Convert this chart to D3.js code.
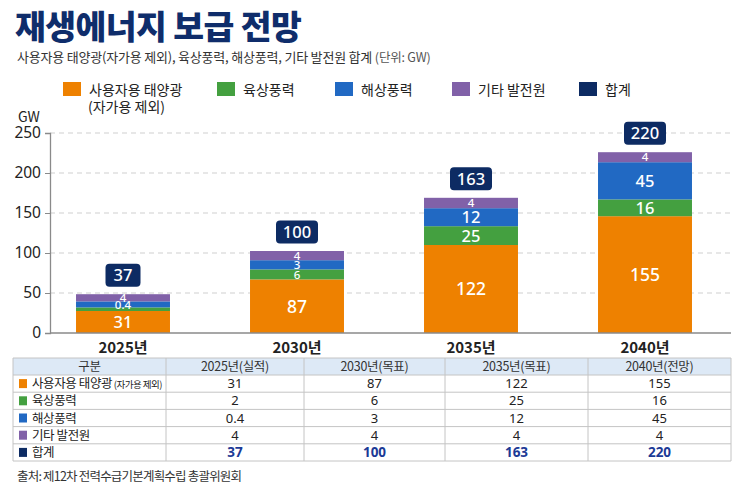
<!DOCTYPE html>
<html><head><meta charset="utf-8">
<script src="https://cdn.jsdelivr.net/npm/d3@7"></script>
<style>
html,body{margin:0;padding:0;background:#fff;}
svg{display:block;font-family:"Noto Sans CJK KR","Noto Sans",sans-serif;}
</style></head>
<body><svg id="c" width="745" height="496"></svg>
<script>
// ---- data ----
const years = ["2025년","2030년","2035년","2040년"];
const tableHeaders = ["구분","2025년(실적)","2030년(목표)","2035년(목표)","2040년(전망)"];
const seriesNames = ["사용자용 태양광","육상풍력","해상풍력","기타 발전원","합계"];
const solar = [31, 87, 122, 155];
const onshore = [2, 6, 25, 16];
const offshore = [0.4, 3, 12, 45];
const other = [4, 4, 4, 4];
const total = [37, 100, 163, 220];
// segment extents as drawn in the picture (GW)
const barSolar = [27.5, 67, 110, 146];
const barOnshore = [4.5, 12.5, 23.5, 21];
const barOffshore = [7.5, 11.5, 22.5, 46.5];
const barOther = [9, 11.5, 13, 12.5];
const yTicks = [0, 50, 100, 150, 200, 250];
const colors = ["#ee8100", "#44a040", "#2169c3", "#8161a8", "#0d2b63"];

const svg = d3.select("#c");
const navy = "#0f2d6b";
const latin = "'Noto Sans','Noto Sans CJK KR',sans-serif";

// ---- title ----
svg.append("text").attr("x",15).attr("y",39).attr("font-size",33.5).attr("font-weight",900)
  .attr("fill",navy).attr("letter-spacing",-0.6).text("재생에너지 보급 전망");
svg.append("text").attr("x",17).attr("y",62).attr("font-size",13).attr("fill","#333")
  .attr("letter-spacing",-0.2)
  .text("사용자용 태양광(자가용 제외), 육상풍력, 해상풍력, 기타 발전원 합계 ")
  .append("tspan").attr("fill","#555").attr("font-size",12.5).text("(단위: GW)");

// ---- legend ----
const legX = [63, 217, 335, 452, 579];
const lg = svg.append("g");
seriesNames.forEach((n,i)=>{
  lg.append("rect").attr("x",legX[i]).attr("y",82).attr("width",18).attr("height",14).attr("fill",colors[i]);
  lg.append("text").attr("x",legX[i]+26).attr("y",94.5).attr("font-size",14).attr("fill","#222").text(n);
});
lg.append("text").attr("x",legX[0]+25).attr("y",111.5).attr("font-size",14).attr("fill","#222").text("(자가용 제외)");

// ---- scales ----
const x = d3.scaleBand().domain(years).range([36,732]).paddingInner(0.46).paddingOuter(0.23);
const y = d3.scaleLinear().domain([0,250]).range([333,133]);
const axisX0 = 50, axisX1 = 731;

// grid
svg.append("g").selectAll("line").data(yTicks.filter(d=>d>0)).join("line")
  .attr("x1",axisX0).attr("x2",axisX1).attr("y1",d=>y(d)).attr("y2",d=>y(d))
  .attr("stroke","#cfcfcf").attr("stroke-width",1).attr("stroke-dasharray","5,4");

// y axis
const yAxis = d3.axisLeft(y).tickValues(yTicks).tickSize(5).tickPadding(4);
const ga = svg.append("g").attr("transform",`translate(${axisX0},0)`).call(yAxis);
ga.select(".domain").attr("stroke","#8a8a8a").attr("stroke-width",1.3);
ga.selectAll(".tick line").attr("stroke","#8a8a8a");
ga.selectAll(".tick text").attr("font-size",15.5).attr("fill","#222").attr("font-family",latin);
svg.append("text").attr("x",18).attr("y",122).attr("font-size",14).attr("fill","#222").text("GW");

// ---- stacked bars ----
const labelSeries = [solar, onshore, offshore, other];
const rows = years.map((yr,i)=>({year:yr, s0:barSolar[i], s1:barOnshore[i], s2:barOffshore[i], s3:barOther[i]}));
const stack = d3.stack().keys(["s0","s1","s2","s3"])(rows);
const bars = svg.append("g");
stack.forEach((layer,k)=>{
  bars.append("g").selectAll("rect").data(layer).join("rect")
    .attr("x",d=>x(d.data.year)).attr("width",x.bandwidth())
    .attr("y",d=>y(d[1])).attr("height",d=>y(d[0])-y(d[1]))
    .attr("fill",colors[k]);
});
// segment labels
const lbl = svg.append("g").attr("fill","#fff").attr("text-anchor","middle").attr("font-family",latin);
stack.forEach((layer,k)=>{
  layer.forEach((d,i)=>{
    const h = y(d[0]) - y(d[1]);
    if (k===1 && i===0) return; // too thin to label
    const fs = h > 40 ? 17.5 : (h > 16 ? 16.5 : 11.5);
    lbl.append("text").attr("x",x(d.data.year)+x.bandwidth()/2)
      .attr("y",(y(d[0])+y(d[1]))/2).attr("dy","0.36em")
      .attr("font-size",fs).attr("font-weight",500).text(labelSeries[k][i]);
  });
});

// total badges
const tops = stack[3];
tops.forEach((d,i)=>{
  const cx = x(d.data.year)+x.bandwidth()/2;
  const w = String(total[i]).length > 2 ? 42 : 35;
  const by = y(d[1]) - 7.5;
  svg.append("rect").attr("x",cx-w/2).attr("y",by-23).attr("width",w).attr("height",23)
    .attr("rx",4).attr("fill",colors[4]);
  svg.append("text").attr("x",cx).attr("y",by-11.5).attr("dy","0.36em").attr("text-anchor","middle")
    .attr("fill","#fff").attr("font-size",16.5).attr("font-weight",500)
    .attr("font-family",latin).text(total[i]);
});

// x axis baseline
svg.append("line").attr("x1",axisX0).attr("x2",axisX1).attr("y1",y(0)).attr("y2",y(0))
  .attr("stroke","#8a8a8a").attr("stroke-width",1.5);
svg.append("g").selectAll("text").data(years).join("text")
  .attr("x",d=>x(d)+x.bandwidth()/2).attr("y",353).attr("text-anchor","middle")
  .attr("font-size",15).attr("font-weight",700).attr("fill","#222").text(d=>d);

// ---- table ----
const colX = [13, 166, 304, 445, 588, 731];
const tTop = 358, hH = 17, rH = 17.2;
const tg = svg.append("g");
tg.append("rect").attr("x",colX[0]).attr("y",tTop).attr("width",colX[5]-colX[0]).attr("height",hH).attr("fill","#dde9f6");
const tableRows = [solar, onshore, offshore, other, total];
const tBottom = tTop + hH + rH*tableRows.length;
const hLines = [tTop, tTop+hH].concat(tableRows.map((r,i)=>tTop+hH+rH*(i+1)));
tg.selectAll("line.h").data(hLines).join("line").attr("class","h")
  .attr("x1",colX[0]).attr("x2",colX[5]).attr("y1",d=>d).attr("y2",d=>d)
  .attr("stroke","#c4c4c4").attr("stroke-width",1);
tg.selectAll("line.v").data(colX).join("line").attr("class","v")
  .attr("x1",d=>d).attr("x2",d=>d).attr("y1",tTop).attr("y2",tBottom)
  .attr("stroke","#c4c4c4").attr("stroke-width",1);
tableHeaders.forEach((h,j)=>{
  tg.append("text").attr("x",(colX[j]+colX[j+1])/2).attr("y",tTop+hH/2).attr("dy","0.36em")
    .attr("text-anchor","middle").attr("font-size",12.5).attr("letter-spacing",-0.3).attr("fill","#333").text(h);
});
tableRows.forEach((r,i)=>{
  const cy = tTop+hH+rH*i+rH/2;
  tg.append("rect").attr("x",19).attr("y",cy-4.5).attr("width",8).attr("height",9).attr("fill",colors[i]);
  const t = tg.append("text").attr("x",32).attr("y",cy).attr("dy","0.36em").attr("font-size",12.5)
    .attr("letter-spacing",-0.4).attr("fill","#222").text(seriesNames[i]);
  if (i===0) t.append("tspan").attr("font-size",9.5).attr("letter-spacing",-0.5).text(" (자가용 제외)");
  r.forEach((v,j)=>{
    tg.append("text").attr("x",(colX[j+1]+colX[j+2])/2).attr("y",cy).attr("dy","0.36em")
      .attr("text-anchor","middle").attr("font-size",i===4?13.5:13)
      .attr("font-weight",i===4?700:400).attr("fill",i===4?"#1c3a96":"#222")
      .attr("font-family",latin).text(v);
  });
});
// source
svg.append("text").attr("x",17).attr("y",481).attr("font-size",12.5).attr("letter-spacing",-0.8).attr("fill","#333")
  .text("출처: 제12차 전력수급기본계획수립 총괄위원회");
</script></body></html>
